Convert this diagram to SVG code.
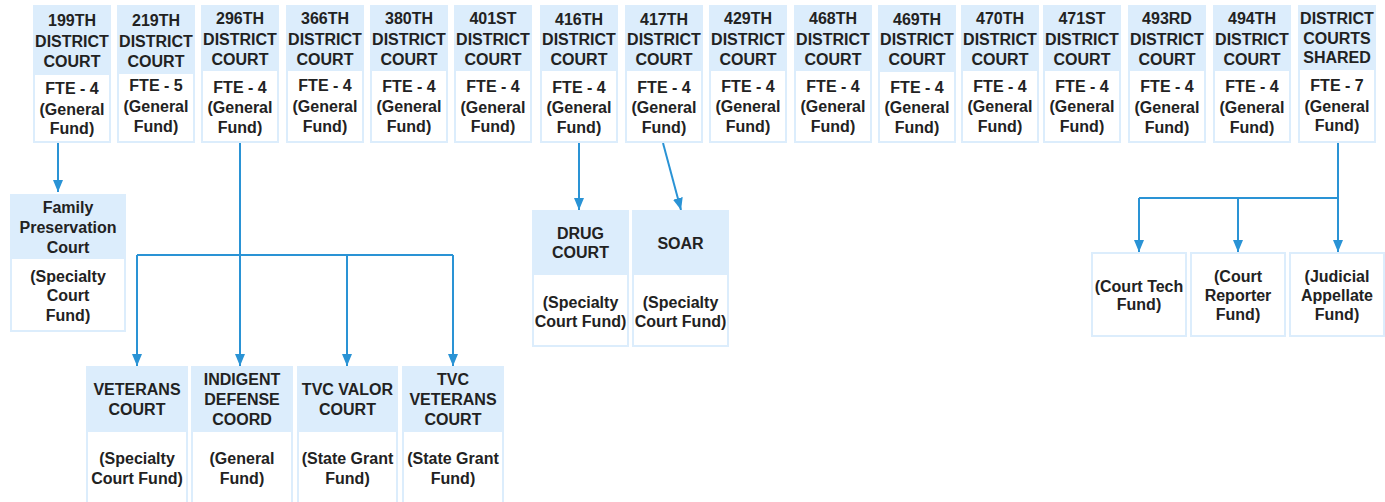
<svg xmlns="http://www.w3.org/2000/svg" width="1385" height="502" viewBox="0 0 1385 502">
<style>
.hd{fill:#dcedfc}
.bd{fill:#ffffff}
.t{font-family:"Liberation Sans",Arial,sans-serif;font-weight:bold;font-size:16px;fill:#222;text-anchor:middle}
.c{stroke:#2a93d5;stroke-width:2;fill:none}
</style>
<defs>
<marker id="ah" viewBox="0 0 12 10" refX="12" refY="5" markerWidth="12" markerHeight="10" markerUnits="userSpaceOnUse" orient="auto">
<path d="M0,0 L12,5 L0,10 z" fill="#2a93d5"/>
</marker>
</defs>
<rect width="1385" height="502" fill="#ffffff"/>

<g id="connectors">
<path class="c" d="M58,143 V192" marker-end="url(#ah)"/>
<path class="c" d="M240,143 V366" marker-end="url(#ah)"/>
<path class="c" d="M137,255 H453"/>
<path class="c" d="M137,255 V366" marker-end="url(#ah)"/>
<path class="c" d="M347,255 V366" marker-end="url(#ah)"/>
<path class="c" d="M453,255 V366" marker-end="url(#ah)"/>
<path class="c" d="M579,143 V210" marker-end="url(#ah)"/>
<path class="c" d="M663,143 L681,210" marker-end="url(#ah)"/>
<path class="c" d="M1338,143 V252" marker-end="url(#ah)"/>
<path class="c" d="M1139,198 H1338"/>
<path class="c" d="M1139,198 V252" marker-end="url(#ah)"/>
<path class="c" d="M1238,198 V252" marker-end="url(#ah)"/>
</g>

<g id="n199"><rect class="hd" x="33" y="5" width="78" height="138"/><rect class="bd" x="35" y="75" width="74" height="66"/>
<text class="t" x="72" y="26">199TH</text><text class="t" x="72" y="46.5">DISTRICT</text><text class="t" x="72" y="66.5">COURT</text>
<text class="t" x="72" y="94">FTE - 4</text><text class="t" x="72" y="114.5">(General</text><text class="t" x="72" y="134">Fund)</text></g>

<g id="n219"><rect class="hd" x="117" y="5" width="78" height="138"/><rect class="bd" x="119" y="74" width="74" height="67"/>
<text class="t" x="156" y="26">219TH</text><text class="t" x="156" y="46.5">DISTRICT</text><text class="t" x="156" y="66.5">COURT</text>
<text class="t" x="156" y="91">FTE - 5</text><text class="t" x="156" y="112">(General</text><text class="t" x="156" y="131.5">Fund)</text></g>

<g id="n296"><rect class="hd" x="201" y="5" width="78" height="138"/><rect class="bd" x="203" y="71" width="74" height="70"/>
<text class="t" x="240" y="24">296TH</text><text class="t" x="240" y="44.5">DISTRICT</text><text class="t" x="240" y="64.5">COURT</text>
<text class="t" x="240" y="92.5">FTE - 4</text><text class="t" x="240" y="113">(General</text><text class="t" x="240" y="133">Fund)</text></g>

<g id="n366"><rect class="hd" x="286" y="5" width="78" height="138"/><rect class="bd" x="288" y="71" width="74" height="70"/>
<text class="t" x="325" y="24">366TH</text><text class="t" x="325" y="44.5">DISTRICT</text><text class="t" x="325" y="64.5">COURT</text>
<text class="t" x="325" y="91">FTE - 4</text><text class="t" x="325" y="112">(General</text><text class="t" x="325" y="131.5">Fund)</text></g>

<g id="n380"><rect class="hd" x="370" y="5" width="78" height="138"/><rect class="bd" x="372" y="71" width="74" height="70"/>
<text class="t" x="409" y="24">380TH</text><text class="t" x="409" y="44.5">DISTRICT</text><text class="t" x="409" y="64.5">COURT</text>
<text class="t" x="409" y="91.5">FTE - 4</text><text class="t" x="409" y="112">(General</text><text class="t" x="409" y="131.5">Fund)</text></g>

<g id="n401"><rect class="hd" x="454" y="5" width="78" height="138"/><rect class="bd" x="456" y="71" width="74" height="70"/>
<text class="t" x="493" y="24">401ST</text><text class="t" x="493" y="44.5">DISTRICT</text><text class="t" x="493" y="64.5">COURT</text>
<text class="t" x="493" y="92">FTE - 4</text><text class="t" x="493" y="112.5">(General</text><text class="t" x="493" y="132">Fund)</text></g>

<g id="n416"><rect class="hd" x="540" y="5" width="78" height="138"/><rect class="bd" x="542" y="71" width="74" height="70"/>
<text class="t" x="579" y="24.5">416TH</text><text class="t" x="579" y="45">DISTRICT</text><text class="t" x="579" y="65">COURT</text>
<text class="t" x="579" y="92.5">FTE - 4</text><text class="t" x="579" y="113">(General</text><text class="t" x="579" y="132.5">Fund)</text></g>

<g id="n417"><rect class="hd" x="625" y="5" width="78" height="138"/><rect class="bd" x="627" y="71" width="74" height="70"/>
<text class="t" x="664" y="24.5">417TH</text><text class="t" x="664" y="45">DISTRICT</text><text class="t" x="664" y="65">COURT</text>
<text class="t" x="664" y="92.5">FTE - 4</text><text class="t" x="664" y="113">(General</text><text class="t" x="664" y="132.5">Fund)</text></g>

<g id="n429"><rect class="hd" x="709" y="5" width="78" height="138"/><rect class="bd" x="711" y="71" width="74" height="70"/>
<text class="t" x="748" y="24">429TH</text><text class="t" x="748" y="44.5">DISTRICT</text><text class="t" x="748" y="64.5">COURT</text>
<text class="t" x="748" y="91.5">FTE - 4</text><text class="t" x="748" y="112">(General</text><text class="t" x="748" y="131.5">Fund)</text></g>

<g id="n468"><rect class="hd" x="794" y="5" width="78" height="138"/><rect class="bd" x="796" y="71" width="74" height="70"/>
<text class="t" x="833" y="24">468TH</text><text class="t" x="833" y="44.5">DISTRICT</text><text class="t" x="833" y="64.5">COURT</text>
<text class="t" x="833" y="91.5">FTE - 4</text><text class="t" x="833" y="112">(General</text><text class="t" x="833" y="131.5">Fund)</text></g>

<g id="n469"><rect class="hd" x="878" y="5" width="78" height="138"/><rect class="bd" x="880" y="72" width="74" height="69"/>
<text class="t" x="917" y="25">469TH</text><text class="t" x="917" y="45">DISTRICT</text><text class="t" x="917" y="65">COURT</text>
<text class="t" x="917" y="92.5">FTE - 4</text><text class="t" x="917" y="113">(General</text><text class="t" x="917" y="132.5">Fund)</text></g>

<g id="n470"><rect class="hd" x="961" y="5" width="78" height="138"/><rect class="bd" x="963" y="71" width="74" height="70"/>
<text class="t" x="1000" y="24">470TH</text><text class="t" x="1000" y="44.5">DISTRICT</text><text class="t" x="1000" y="64.5">COURT</text>
<text class="t" x="1000" y="91.5">FTE - 4</text><text class="t" x="1000" y="112">(General</text><text class="t" x="1000" y="131.5">Fund)</text></g>

<g id="n471"><rect class="hd" x="1043" y="5" width="78" height="138"/><rect class="bd" x="1045" y="71" width="74" height="70"/>
<text class="t" x="1082" y="24">471ST</text><text class="t" x="1082" y="44.5">DISTRICT</text><text class="t" x="1082" y="64.5">COURT</text>
<text class="t" x="1082" y="91.5">FTE - 4</text><text class="t" x="1082" y="112">(General</text><text class="t" x="1082" y="131.5">Fund)</text></g>

<g id="n493"><rect class="hd" x="1128" y="5" width="78" height="138"/><rect class="bd" x="1130" y="71" width="74" height="70"/>
<text class="t" x="1167" y="24">493RD</text><text class="t" x="1167" y="44.5">DISTRICT</text><text class="t" x="1167" y="64.5">COURT</text>
<text class="t" x="1167" y="92">FTE - 4</text><text class="t" x="1167" y="112.5">(General</text><text class="t" x="1167" y="132.5">Fund)</text></g>

<g id="n494"><rect class="hd" x="1213" y="5" width="78" height="138"/><rect class="bd" x="1215" y="71" width="74" height="70"/>
<text class="t" x="1252" y="24">494TH</text><text class="t" x="1252" y="44.5">DISTRICT</text><text class="t" x="1252" y="64.5">COURT</text>
<text class="t" x="1252" y="92">FTE - 4</text><text class="t" x="1252" y="112.5">(General</text><text class="t" x="1252" y="132.5">Fund)</text></g>

<g id="nShared"><rect class="hd" x="1298" y="5" width="78" height="138"/><rect class="bd" x="1300" y="70" width="74" height="71"/>
<text class="t" x="1337" y="23.5">DISTRICT</text><text class="t" x="1337" y="43.5">COURTS</text><text class="t" x="1337" y="63">SHARED</text>
<text class="t" x="1337" y="91">FTE - 7</text><text class="t" x="1337" y="111.5">(General</text><text class="t" x="1337" y="131">Fund)</text></g>

<g id="nFamily"><rect class="hd" x="10" y="194" width="116" height="138"/><rect class="bd" x="12" y="259" width="112" height="71"/>
<text class="t" x="68" y="213">Family</text><text class="t" x="68" y="233">Preservation</text><text class="t" x="68" y="253">Court</text>
<text class="t" x="68" y="282">(Specialty</text><text class="t" x="68" y="301">Court</text><text class="t" x="68" y="320.5">Fund)</text></g>

<g id="nVeterans"><rect class="hd" x="86" y="366" width="102" height="138"/><rect class="bd" x="88" y="432" width="98" height="70"/>
<text class="t" x="137" y="395">VETERANS</text><text class="t" x="137" y="415">COURT</text>
<text class="t" x="137" y="464">(Specialty</text><text class="t" x="137" y="484">Court Fund)</text></g>

<g id="nIndigent"><rect class="hd" x="191" y="366" width="102" height="138"/><rect class="bd" x="193" y="432" width="98" height="70"/>
<text class="t" x="242" y="385">INDIGENT</text><text class="t" x="242" y="405">DEFENSE</text><text class="t" x="242" y="425">COORD</text>
<text class="t" x="242" y="464">(General</text><text class="t" x="242" y="484">Fund)</text></g>

<g id="nValor"><rect class="hd" x="297" y="366" width="101" height="138"/><rect class="bd" x="299" y="432" width="97" height="70"/>
<text class="t" x="347.5" y="395">TVC VALOR</text><text class="t" x="347.5" y="415">COURT</text>
<text class="t" x="347.5" y="464">(State Grant</text><text class="t" x="347.5" y="484">Fund)</text></g>

<g id="nTvcVeterans"><rect class="hd" x="402" y="366" width="102" height="138"/><rect class="bd" x="404" y="432" width="98" height="70"/>
<text class="t" x="453" y="385">TVC</text><text class="t" x="453" y="405">VETERANS</text><text class="t" x="453" y="425">COURT</text>
<text class="t" x="453" y="464">(State Grant</text><text class="t" x="453" y="484">Fund)</text></g>

<g id="nDrug"><rect class="hd" x="532" y="210" width="97" height="137"/><rect class="bd" x="534" y="275" width="93" height="70"/>
<text class="t" x="580.5" y="239">DRUG</text><text class="t" x="580.5" y="258">COURT</text>
<text class="t" x="580.5" y="308">(Specialty</text><text class="t" x="580.5" y="327">Court Fund)</text></g>

<g id="nSoar"><rect class="hd" x="632" y="210" width="97" height="137"/><rect class="bd" x="634" y="275" width="93" height="70"/>
<text class="t" x="680.5" y="249">SOAR</text>
<text class="t" x="680.5" y="308">(Specialty</text><text class="t" x="680.5" y="327">Court Fund)</text></g>

<g id="nCourtTech"><rect class="hd" x="1091" y="252" width="96" height="85"/><rect class="bd" x="1093" y="254" width="92" height="81"/>
<text class="t" x="1139" y="292">(Court Tech</text><text class="t" x="1139" y="310">Fund)</text></g>

<g id="nReporter"><rect class="hd" x="1190" y="252" width="96" height="85"/><rect class="bd" x="1192" y="254" width="92" height="81"/>
<text class="t" x="1238" y="281.5">(Court</text><text class="t" x="1238" y="301">Reporter</text><text class="t" x="1238" y="320">Fund)</text></g>

<g id="nAppellate"><rect class="hd" x="1289" y="252" width="96" height="85"/><rect class="bd" x="1291" y="254" width="92" height="81"/>
<text class="t" x="1337" y="281.5">(Judicial</text><text class="t" x="1337" y="301">Appellate</text><text class="t" x="1337" y="320">Fund)</text></g>
</svg>
